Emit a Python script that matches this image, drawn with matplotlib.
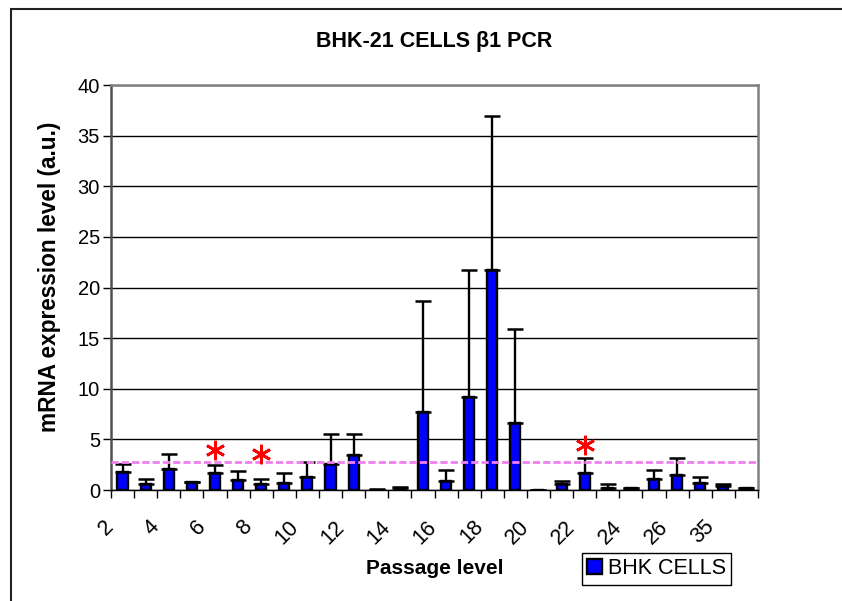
import matplotlib
matplotlib.use('Agg')
import matplotlib.pyplot as plt
import numpy as np
from matplotlib.patches import Rectangle
from matplotlib.transforms import ScaledTranslation

plt.rcParams['font.family'] = ['Liberation Sans', 'DejaVu Sans']

# ---- data ----
passages = ['2', '3', '4', '5', '6', '7', '8', '9', '10', '11', '12', '13', '14',
            '15', '16', '17', '18', '19', '20', '21', '22', '23', '24', '25', '26',
            '30', '35', '40']
shown_labels = ['2', '4', '6', '8', '10', '12', '14', '16', '18', '20', '22', '24', '26', '35']
expression = [1.77, 0.57, 2.03, 0.77, 1.63, 0.97, 0.57, 0.70, 1.27, 2.60, 3.47, 0.02,
              0.20, 7.75, 0.90, 9.15, 21.75, 6.65, 0.02, 0.57, 1.63, 0.23, 0.17, 1.13,
              1.53, 0.67, 0.40, 0.17]
error_up = [0.83, 0.50, 1.57, 0.03, 0.84, 0.86, 0.53, 1.00, 1.53, 2.97, 2.10, 0.03,
            0.13, 10.95, 1.07, 12.55, 15.15, 9.25, 0.01, 0.33, 1.50, 0.34, 0.06, 0.84,
            1.60, 0.66, 0.23, 0.06]
star_passages = ['6', '8', '22']
star_heights = [4.0, 3.55, 4.4]
threshold = 2.73
yticks = [0, 5, 10, 15, 20, 25, 30, 35, 40]

W, H = 842, 601
fig = plt.figure(figsize=(W / 100, H / 100), dpi=100)
L, R, T, B = 111, 758, 85, 490
ax = fig.add_axes([L / W, 1 - B / H, (R - L) / W, (B - T) / H])

x = np.arange(len(passages))
ax.bar(x, expression, width=0.44, color='#0000FF', edgecolor='black',
       linewidth=1.7, zorder=3, label='BHK CELLS')
ax.errorbar(x, expression, yerr=[np.zeros(len(x)), error_up], fmt='none',
            ecolor='black', elinewidth=1.7, capsize=6, capthick=1.8, zorder=4)

ax.axhline(threshold, color='#F080F0', lw=2, dashes=(2.6, 1.1), zorder=5)

sx = [passages.index(p) for p in star_passages]
ax.plot(sx, star_heights, linestyle='none', marker=(6, 2, 0), markersize=14,
        markeredgewidth=2, color='#FF0000', zorder=6)

ax.set_xlim(-0.5, len(passages) - 0.5)
ax.set_ylim(0, 40)
ax.set_yticks(yticks)
ax.yaxis.grid(True, color='black', lw=1, zorder=0)
ax.set_axisbelow(True)

# x ticks: marks at boundaries, labels at centers
ax.set_xticks(np.arange(-0.5, len(passages), 1))
ax.set_xticklabels([])
lab = [p if p in shown_labels else '' for p in passages]
ax.set_xticks(x, labels=lab, minor=True)
ax.tick_params(axis='x', which='major', direction='out', length=6, width=1, color='black')
ax.tick_params(axis='x', which='minor', length=0, pad=19, labelsize=15.5, labelrotation=45)
off = ScaledTranslation(-5 / 100, 0, fig.dpi_scale_trans)
for t in ax.get_xticklabels(minor=True):
    t.set_ha('right')
    t.set_transform(t.get_transform() + off)

ax.tick_params(axis='y', direction='out', length=6, width=1, pad=2, labelsize=14.5)

for s in ['top', 'right']:
    ax.spines[s].set_color('#808080')
    ax.spines[s].set_linewidth(1.8)
ax.spines['left'].set_color('#505050')
ax.spines['left'].set_linewidth(1.8)
ax.spines['bottom'].set_color('black')
ax.spines['bottom'].set_linewidth(1)

fig.text((L + R) / 2 / W, 1 - 41 / H, 'BHK-21 CELLS β1 PCR', ha='center', va='center',
         fontsize=15.5, fontweight='bold')
ax.set_xlabel('Passage level', fontsize=15, fontweight='bold', va='center')
ax.xaxis.set_label_coords(0.5, -(568 - B) / (B - T))
ax.set_ylabel('mRNA expression level (a.u.)', fontsize=16.3, fontweight='bold', va='center')
ax.yaxis.set_label_coords((50 - L) / (R - L), (B - 277) / (B - T))

leg = fig.legend(loc='upper left', bbox_to_anchor=(582 / W, 1 - 553 / H), fontsize=15.5,
                 frameon=True, fancybox=False, framealpha=1, edgecolor='black',
                 borderpad=0.25, handlelength=0.7, handleheight=0.7, handletextpad=0.25,
                 borderaxespad=0)
leg.get_frame().set_linewidth(1)

fig.add_artist(Rectangle((11 / W, -0.05), 1.2, 1 - 9.5 / H + 0.05, transform=fig.transFigure,
                         fill=False, edgecolor='#222222', lw=1.5))

fig.savefig('out.png', dpi=100)
